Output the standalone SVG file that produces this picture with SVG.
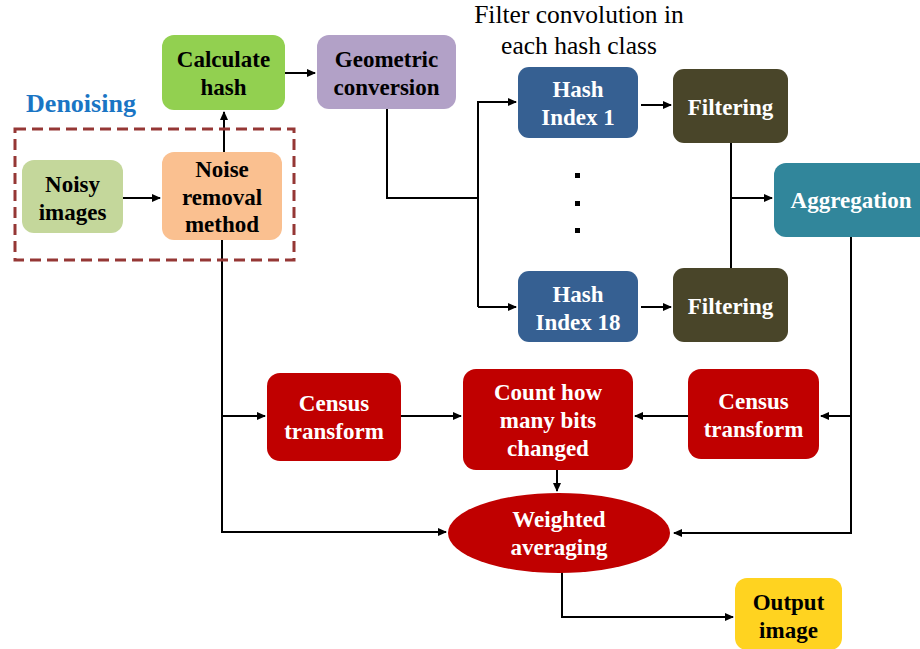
<svg xmlns="http://www.w3.org/2000/svg" width="920" height="649" viewBox="0 0 920 649">
<style>
.t{font-family:"Liberation Serif","Times New Roman",serif;font-weight:bold;font-size:23px;text-anchor:middle}
.w{fill:#ffffff}
.k{fill:#000000}
.c{fill:none;stroke:#000;stroke-width:2}
.r{font-family:"Liberation Serif","Times New Roman",serif;font-size:25.5px;text-anchor:middle;fill:#000}
</style>
<defs>
<marker id="a" markerWidth="9" markerHeight="8" refX="8" refY="4" orient="auto" markerUnits="userSpaceOnUse">
<path d="M0,0 L9,4 L0,8 z" fill="#000"/>
</marker>
</defs>
<rect width="920" height="649" fill="#fff"/>

<g id="connectors">
<path class="c" d="M123,198 H160" marker-end="url(#a)"/>
<path class="c" d="M224,152 V112" marker-end="url(#a)"/>
<path class="c" d="M285,73 H315" marker-end="url(#a)"/>
<path class="c" d="M387,109 V198 H478"/>
<path class="c" d="M478,307 V102 H516" marker-end="url(#a)"/>
<path class="c" d="M478,307 H516" marker-end="url(#a)"/>
<path class="c" d="M641,105 H671" marker-end="url(#a)"/>
<path class="c" d="M641,307 H671" marker-end="url(#a)"/>
<path class="c" d="M731,143 V268"/>
<path class="c" d="M731,198 H772" marker-end="url(#a)"/>
<path class="c" d="M851,237 V533 H674" marker-end="url(#a)"/>
<path class="c" d="M851,416 H821" marker-end="url(#a)"/>
<path class="c" d="M222,240 V532 H446" marker-end="url(#a)"/>
<path class="c" d="M222,416 H265" marker-end="url(#a)"/>
<path class="c" d="M401,416 H461" marker-end="url(#a)"/>
<path class="c" d="M688,416 H635" marker-end="url(#a)"/>
<path class="c" d="M557,470 V491" marker-end="url(#a)"/>
<path class="c" d="M562,572 V617 H733" marker-end="url(#a)"/>
</g>

<g id="denoising-group">
<rect x="15" y="129" width="279" height="131" fill="none" stroke="#953735" stroke-width="3" stroke-dasharray="11,6"/>
<text x="81" y="112" class="t" style="font-size:26px;fill:#1a75c4">Denoising</text>
</g>

<g id="filter-label">
<text x="579" y="23" class="r">Filter convolution in</text>
<text x="579" y="54" class="r">each hash class</text>
</g>

<g id="calculate-hash">
<rect x="162" y="35" width="123" height="75" rx="12" fill="#92d050"/>
<text x="223.5" y="67" class="t k">Calculate</text>
<text x="223.5" y="95" class="t k">hash</text>
</g>

<g id="noisy-images">
<rect x="22" y="160" width="101" height="73" rx="12" fill="#c4d79b"/>
<text x="72.5" y="192" class="t k">Noisy</text>
<text x="72.5" y="220" class="t k">images</text>
</g>

<g id="noise-removal">
<rect x="162" y="152" width="120" height="88" rx="12" fill="#fac090"/>
<text x="222" y="177" class="t k">Noise</text>
<text x="222" y="205" class="t k">removal</text>
<text x="222" y="232" class="t k">method</text>
</g>

<g id="geometric-conversion">
<rect x="317" y="35" width="139" height="74" rx="12" fill="#b2a1c7"/>
<text x="386.5" y="67" class="t k">Geometric</text>
<text x="386.5" y="95" class="t k">conversion</text>
</g>

<g id="hash-index-1">
<rect x="518" y="67" width="120" height="71" rx="11" fill="#366092"/>
<text x="578" y="97" class="t w">Hash</text>
<text x="578" y="125" class="t w">Index 1</text>
</g>

<g id="dots">
<rect x="575" y="173" width="5" height="5" fill="#000"/>
<rect x="575" y="201" width="5" height="5" fill="#000"/>
<rect x="575" y="228" width="5" height="5" fill="#000"/>
</g>

<g id="hash-index-18">
<rect x="518" y="271" width="120" height="71" rx="11" fill="#366092"/>
<text x="578" y="302" class="t w">Hash</text>
<text x="578" y="330" class="t w">Index 18</text>
</g>

<g id="filtering-1">
<rect x="673" y="69" width="115" height="74" rx="11" fill="#494529"/>
<text x="730.5" y="115" class="t w">Filtering</text>
</g>

<g id="filtering-2">
<rect x="673" y="268" width="115" height="74" rx="11" fill="#494529"/>
<text x="730.5" y="314" class="t w">Filtering</text>
</g>

<g id="aggregation">
<rect x="774" y="163" width="160" height="74" rx="12" fill="#31869b"/>
<text x="851" y="208" class="t w">Aggregation</text>
</g>

<g id="census-left">
<rect x="267" y="373" width="134" height="88" rx="13" fill="#c00000"/>
<text x="334" y="411" class="t w">Census</text>
<text x="334" y="439" class="t w">transform</text>
</g>

<g id="count-bits">
<rect x="463" y="369" width="170" height="101" rx="13" fill="#c00000"/>
<text x="548" y="400" class="t w">Count how</text>
<text x="548" y="428" class="t w">many bits</text>
<text x="548" y="456" class="t w">changed</text>
</g>

<g id="census-right">
<rect x="688" y="369" width="131" height="90" rx="13" fill="#c00000"/>
<text x="753.5" y="409" class="t w">Census</text>
<text x="753.5" y="437" class="t w">transform</text>
</g>

<g id="weighted-averaging">
<ellipse cx="559" cy="533" rx="111" ry="40" fill="#c00000"/>
<text x="559" y="527" class="t w">Weighted</text>
<text x="559" y="555" class="t w">averaging</text>
</g>

<g id="output-image">
<rect x="735" y="578" width="107" height="72" rx="12" fill="#ffd320"/>
<text x="788.5" y="610" class="t k">Output</text>
<text x="788.5" y="638" class="t k">image</text>
</g>
</svg>
